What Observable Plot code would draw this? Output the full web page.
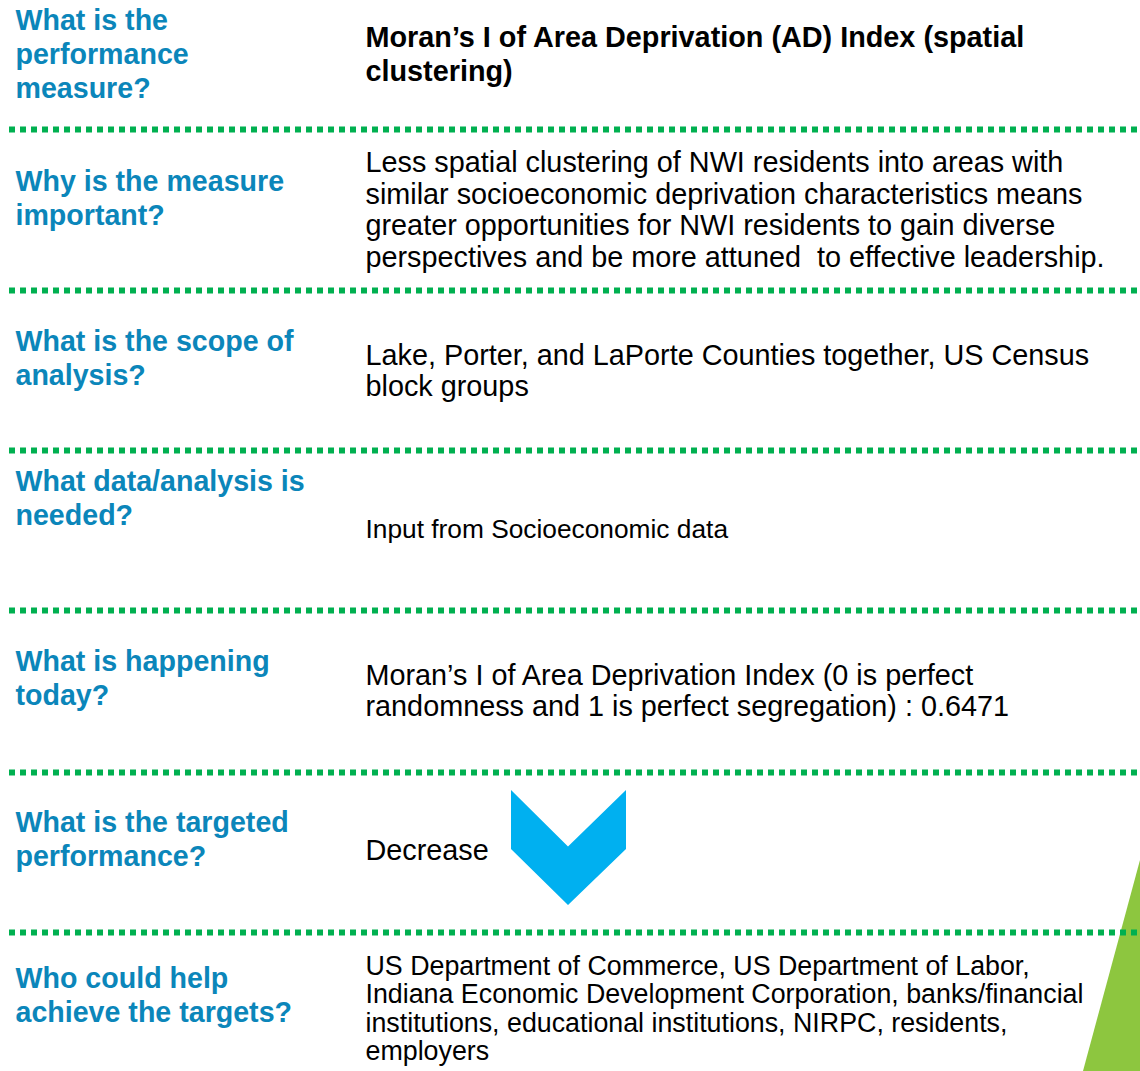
<!DOCTYPE html>
<html>
<head>
<meta charset="utf-8">
<script src="https://cdn.jsdelivr.net/npm/d3@7"></script>
<script src="https://cdn.jsdelivr.net/npm/@observablehq/plot@0.6"></script>
<style>
  html, body { margin: 0; padding: 0; background: #fff; }
  #chart svg { display: block; }
</style>
</head>
<body>
<div id="chart"></div>
<script>
// ---- content ----
const questions = [
  "What is the\nperformance\nmeasure?",
  "Why is the measure\nimportant?",
  "What is the scope of\nanalysis?",
  "What data/analysis is\nneeded?",
  "What is happening\ntoday?",
  "What is the targeted\nperformance?",
  "Who could help\nachieve the targets?"
];
const answers = [
  "Moran’s I of Area Deprivation (AD) Index (spatial\nclustering)",
  "Less spatial clustering of NWI residents into areas with\nsimilar socioeconomic deprivation characteristics means\ngreater opportunities for NWI residents to gain diverse\nperspectives and be more attuned  to effective leadership.",
  "Lake, Porter, and LaPorte Counties together, US Census\nblock groups",
  "Input from Socioeconomic data",
  "Moran’s I of Area Deprivation Index (0 is perfect\nrandomness and 1 is perfect segregation) : 0.6471",
  "Decrease",
  "US Department of Commerce, US Department of Labor,\nIndiana Economic Development Corporation, banks/financial\ninstitutions, educational institutions, NIRPC, residents,\nemployers"
];

// ---- layout (page coordinates) ----
const W = 1140, H = 1071;
const sepY = [129, 290, 450, 610, 772, 932];
const qY = [53, 197, 357, 497, 677, 838, 994];
const aY = [53, 209, 370, 529, 690, 849, 1008];
const rows = questions.map((q, i) => ({i, q, a: answers[i], qy: qY[i], ay: aY[i]}));

// chevron (down arrow) geometry
const chevron = [
  {x: 511, y1: 790, y2: 849},
  {x: 568, y1: 846.5, y2: 905},
  {x: 626, y1: 790, y2: 849}
];
const triangle = [
  {x: 1083, y1: 1071, y2: 1071},
  {x: 1140, y1: 860, y2: 1071}
];

const font = "'Liberation Sans', Arial, Helvetica, sans-serif";
const blue = "#0b86ba";

const plot = Plot.plot({
  width: W, height: H,
  margin: 0,
  x: {domain: [0, W], range: [0, W], axis: null},
  y: {domain: [0, H], range: [0, H], axis: null},
  style: {fontFamily: font, background: "#fff", overflow: "visible"},
  marks: [
    Plot.areaY(triangle, {x: "x", y1: "y1", y2: "y2", fill: "#8dc63f"}),
    Plot.ruleY(sepY, {x1: 9, x2: W, stroke: "#00b050", strokeWidth: 6, strokeDasharray: "6,5"}),
    Plot.text(rows, {x: 15, y: "qy", text: "q", textAnchor: "start", lineAnchor: "middle",
      fontSize: 28.6, fontWeight: "bold", fill: blue, lineHeight: 1.19}),
    Plot.text(rows.filter(d => d.i === 0), {x: 365, y: "ay", text: "a", textAnchor: "start", lineAnchor: "middle",
      fontSize: 28.8, fontWeight: "bold", fill: "#000", lineHeight: 1.18}),
    Plot.text(rows.filter(d => [1, 2, 4, 5].includes(d.i)), {x: 365, y: "ay", text: "a", textAnchor: "start", lineAnchor: "middle",
      fontSize: 28.8, fill: "#000", lineHeight: 1.09}),
    Plot.text(rows.filter(d => d.i === 3), {x: 365, y: "ay", text: "a", textAnchor: "start", lineAnchor: "middle",
      fontSize: 26.3, fill: "#000"}),
    Plot.text(rows.filter(d => d.i === 6), {x: 365, y: "ay", text: "a", textAnchor: "start", lineAnchor: "middle",
      fontSize: 26.8, fill: "#000", lineHeight: 1.05}),
    Plot.areaY(chevron, {x: "x", y1: "y1", y2: "y2", fill: "#00b0f0"})
  ]
});
document.getElementById("chart").appendChild(plot);
</script>
</body>
</html>
